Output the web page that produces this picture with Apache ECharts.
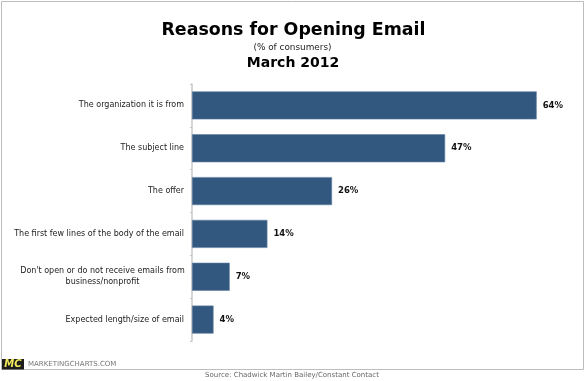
<!DOCTYPE html>
<html>
<head>
<meta charset="utf-8">
<style>html,body{margin:0;padding:0;background:#fff}#c{width:585px;height:381px}</style>
<script src="https://cdn.jsdelivr.net/npm/echarts@6/dist/echarts.min.js"></script>
</head>
<body>
<div id="c"></div>
<script>
const categories = [
  "The organization it is from",
  "The subject line",
  "The offer",
  "The first few lines of the body of the email",
  "Don't open or do not receive emails from\nbusiness/nonprofit",
  "Expected length/size of email"
];
const values = [64, 47, 26, 14, 7, 4];
const titleText = "Reasons for Opening Email";
const subtitleText = "(% of consumers)";
const dateText = "March 2012";
const sourceText = "Source: Chadwick Martin Bailey/Constant Contact";
const brandText = "MARKETINGCHARTS.COM";
const logoText = "MC";

const font = '"DejaVu Sans", Verdana, sans-serif';
const chart = echarts.init(document.getElementById('c'), null, {renderer: 'canvas'});
chart.setOption({
  animation: false,
  backgroundColor: '#fff',
  grid: {left: 192, top: 84, width: 377, height: 257, containLabel: false},
  xAxis: {type: 'value', min: 0, max: 70, show: false},
  yAxis: {
    type: 'category', inverse: true, data: categories,
    axisLine: {show: true, lineStyle: {color: '#c8c8c8', width: 1.5}},
    axisTick: {show: true, length: 2, lineStyle: {color: '#c4c4c4'}},
    splitLine: {show: false},
    axisLabel: {
      margin: 8, color: '#222', fontFamily: font, fontSize: 8, lineHeight: 11,
      align: 'right',
      formatter: function (v) {
        const p = v.split('\n');
        return p.length > 1 ? '{a|' + p[0] + '}\n{b|' + p[1] + '}' : v;
      },
      rich: {
        a: {fontFamily: font, fontSize: 8, color: '#222', lineHeight: 11, width: 163, align: 'center'},
        b: {fontFamily: font, fontSize: 8, color: '#222', lineHeight: 11, width: 163, align: 'center'}
      }
    }
  },
  series: [{
    type: 'bar', data: values, barWidth: 28,
    itemStyle: {color: '#33587f', borderColor: '#5f7fa3', borderWidth: 0.6},
    label: {
      show: true, position: 'right', distance: 6,
      formatter: '{c}%', color: '#111',
      fontFamily: font, fontSize: 8.5, fontWeight: 'bold'
    }
  }],
  graphic: [
    {type: 'rect', silent: true, z: -1, shape: {x: 1.5, y: 1.5, width: 582, height: 368}, style: {fill: '#fff', stroke: '#bdbdbd', lineWidth: 1}},
    {type: 'text', x: 293.5, y: 30, style: {text: titleText, textAlign: 'center', textVerticalAlign: 'middle', font: 'bold 17.4px ' + font, fill: '#000'}},
    {type: 'text', x: 292.5, y: 47.5, style: {text: subtitleText, textAlign: 'center', textVerticalAlign: 'middle', font: '8.9px ' + font, fill: '#222'}},
    {type: 'text', x: 293, y: 63, style: {text: dateText, textAlign: 'center', textVerticalAlign: 'middle', font: 'bold 14px ' + font, fill: '#000'}},
    {type: 'rect', shape: {x: 2, y: 359, width: 22, height: 10.5}, style: {fill: '#1c1c1c'}},
    {type: 'text', x: 13, y: 364, style: {text: logoText, textAlign: 'center', textVerticalAlign: 'middle', font: 'italic bold 10px ' + font, fill: '#f2e85c'}},
    {type: 'text', x: 28, y: 364, style: {text: brandText, textAlign: 'left', textVerticalAlign: 'middle', font: '7px ' + font, fill: '#777'}},
    {type: 'text', x: 292, y: 375, style: {text: sourceText, textAlign: 'center', textVerticalAlign: 'middle', font: '7px ' + font, fill: '#666'}}
  ]
});
</script>
</body>
</html>
